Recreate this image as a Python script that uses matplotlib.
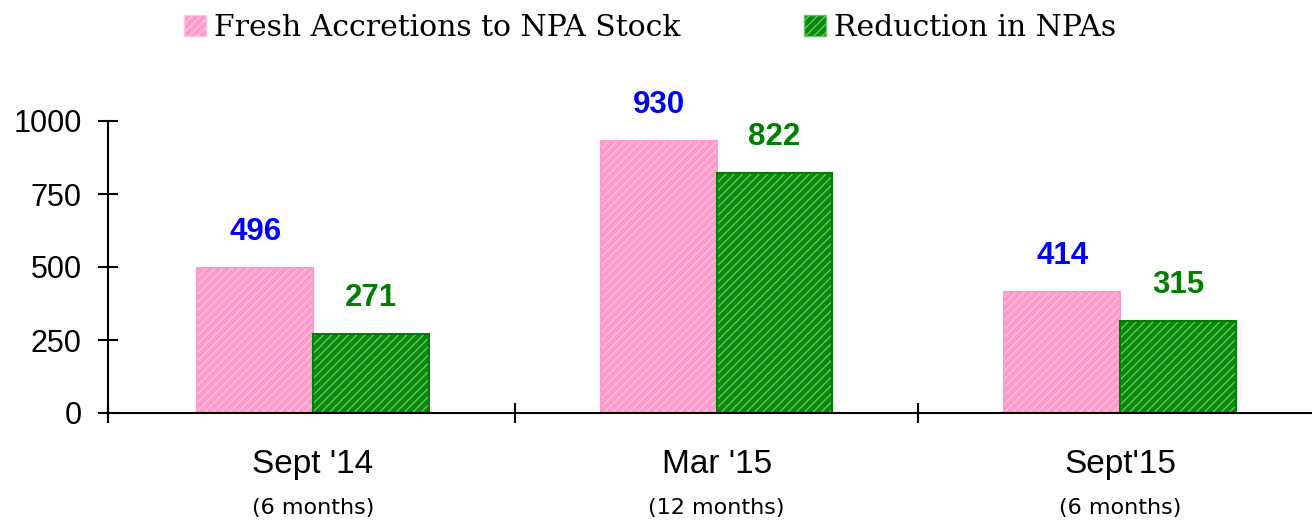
import matplotlib
matplotlib.use("Agg")
import matplotlib.pyplot as plt
from matplotlib.patches import Patch
import numpy as np

categories = ["Sept '14", "Mar '15", "Sept'15"]
periods = ["(6 months)", "(12 months)", "(6 months)"]
fresh = [496, 930, 414]
reduction = [271, 822, 315]
series_names = ["Fresh Accretions to NPA Stock", "Reduction in NPAs"]
yticks = [0, 250, 500, 750, 1000]

W, H = 1312, 521
fig = plt.figure(figsize=(W / 100, H / 100), dpi=100)
ax = fig.add_axes([108 / W, (H - 413) / H, 1204 / W, 292 / H])

x = np.arange(len(categories))
bw = 0.287
pink_face, pink_hatch, pink_edge = "#FF9ACB", "#FFC4E1", "#FF9ACB"
green_face, green_hatch, green_edge = "#0A8A0A", "#66C266", "#008000"

# fill + hatch
ax.bar(x - bw / 2, fresh, bw, color=pink_face, edgecolor=pink_hatch, hatch="////", linewidth=0)
ax.bar(x + bw / 2, reduction, bw, color=green_face, edgecolor=green_hatch, hatch="////", linewidth=0)
# outlines
ax.bar(x - bw / 2, fresh, bw, fill=False, edgecolor=pink_edge, linewidth=1.5)
ax.bar(x + bw / 2, reduction, bw, fill=False, edgecolor=green_edge, linewidth=1.5)

for xi, v in zip(x, fresh):
    ax.annotate(str(v), (xi - bw / 2, v), xytext=(0, 26), textcoords="offset points",
                ha="center", va="center", fontsize=22.5, fontweight="bold",
                color="#0000FF", family="Liberation Sans", annotation_clip=False)
for xi, v in zip(x, reduction):
    ax.annotate(str(v), (xi + bw / 2, v), xytext=(0, 26), textcoords="offset points",
                ha="center", va="center", fontsize=22.5, fontweight="bold",
                color="#008000", family="Liberation Sans", annotation_clip=False)

xmin, xmax = -0.508, 2.475
ax.set_xlim(xmin, xmax)
ax.set_ylim(0, 1000)
ax.set_yticks(yticks)
ax.set_yticklabels([str(t) for t in yticks], fontsize=22, family="Liberation Sans")
ax.tick_params(axis="y", direction="inout", length=14, width=1.5, pad=12)
ax.set_xticks([xmin, 0.5, 1.5])
ax.set_xticklabels([])
ax.tick_params(axis="x", direction="inout", length=14, width=1.5)

for s in ["top", "right"]:
    ax.spines[s].set_visible(False)
for s in ["left", "bottom"]:
    ax.spines[s].set_linewidth(1.5)
    ax.spines[s].set_color("black")

trans = ax.get_xaxis_transform()
for xi, c, p in zip(x, categories, periods):
    ax.text(xi, -0.178, c, transform=trans, ha="center", va="center",
            fontsize=24, family="Liberation Sans")
    ax.text(xi, -0.325, p, transform=trans, ha="center", va="center",
            fontsize=16, family="DejaVu Sans")

handles = [Patch(facecolor=pink_face, edgecolor=pink_hatch, hatch="////"),
           Patch(facecolor=green_face, edgecolor=green_hatch, hatch="////")]
fig.legend(handles, series_names, loc="center", bbox_to_anchor=(650 / W, 1 - 28 / H),
           ncol=2, frameon=False, prop={"family": "DejaVu Serif", "size": 21.5},
           handlelength=0.74, handleheight=0.67, handletextpad=0.25, columnspacing=4.15,
           borderpad=0, borderaxespad=0)

fig.savefig("out.png", dpi=100)
